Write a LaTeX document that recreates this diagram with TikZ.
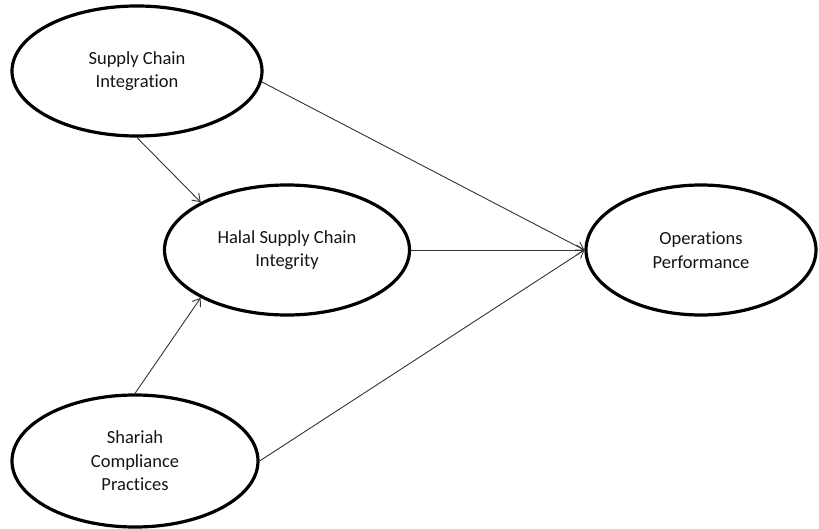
\documentclass[tikz,border=0pt]{standalone}
\usepackage{fontspec}
\setmainfont{Carlito}[Ligatures=NoCommon]
\usetikzlibrary{shapes.geometric,arrows.meta}
\begin{document}
\begin{tikzpicture}[x=1pt,y=-1pt,
  construct/.style={ellipse,draw=black,line width=3.2pt,inner sep=0pt,align=center,
    font=\fontsize{18.5}{23.5}\selectfont,text=black!92},
  link/.style={draw=black!80,line width=0.9pt,-{Straight Barb[length=7pt,width=10pt]}}]
\useasboundingbox (0,0) rectangle (819,529);
\node[construct,minimum width=250pt,minimum height=130pt] (sci) at (137,71) {Supply Chain\\Integration};
\node[construct,minimum width=245pt,minimum height=130pt] (hsci) at (287,250) {Halal Supply Chain\\Integrity};
\node[construct,minimum width=230pt,minimum height=130pt] (op) at (701,250) {Operations\\Performance};
\node[construct,minimum width=246pt,minimum height=132pt] (scp) at (135,461) {Shariah\\Compliance\\Practices};
\draw[link] (sci.south) -- (hsci.151);
\draw[link] (sci.-5) -- (op.west);
\draw[link] (hsci.east) -- (op.west);
\draw[link] (scp.north) -- (hsci.209);
\draw[link] (scp.east) -- (op.west);
\end{tikzpicture}
\end{document}
